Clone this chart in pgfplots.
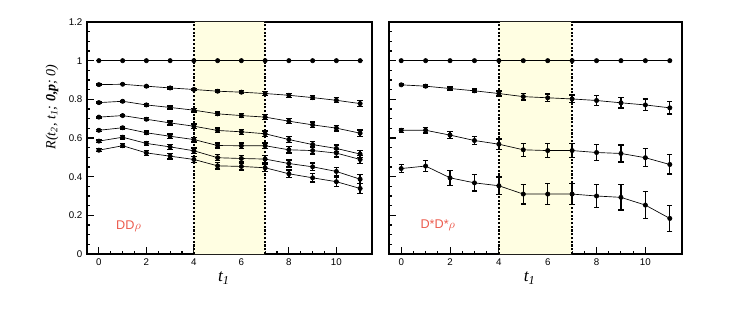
\documentclass[border=0pt]{standalone}
\usepackage{pgfplots}
\pgfplotsset{compat=1.18}
\usepackage{fontspec}
\setmainfont{Liberation Sans}
\newfontfamily\tms{Liberation Serif}
\definecolor{bandyel}{RGB}{255,254,226}
\definecolor{labred}{RGB}{236,92,78}

\pgfplotsset{
  panel/.style={scale only axis, height=174pt,
    xmin=-0.5, xmax=11.5, ymin=0, ymax=1.2,
    axis line style={line width=1.1pt},
    xtick={0,2,4,6,8,10}, minor x tick num=3,
    ytick={0,0.2,0.4,0.6,0.8,1,1.2}, minor y tick num=3,
    tick align=inside, tick pos=left,
    major tick length=5pt, minor tick length=2.2pt,
    every tick/.style={black, line width=0.8pt},
    tick label style={font=\fontsize{7.3}{8}\selectfont},
    /pgf/number format/assume math mode=true,
    xlabel={\tms\itshape t\textsubscript{1}},
    xlabel style={font=\fontsize{13}{14}\selectfont, anchor=center, at={(axis description cs:0.48,-0.105)}},
    clip=false},
  ser/.style={black, line width=0.5pt, mark=*, mark size=1.6pt,
    error bars/.cd, y dir=both, y explicit,
    error bar style={line width=1pt},
    error mark options={rotate=90, mark size=2pt, line width=1pt}},
  band/.style={fill=bandyel, draw=none, forget plot},
  vline/.style={black, line width=1pt, dash pattern=on 1.6pt off 1.2pt, forget plot}
}

\begin{document}
\begin{tikzpicture}
\useasboundingbox (0,0) rectangle (560.25pt,241.5pt);

% left panel: DD rho
\begin{axis}[panel, width=213.75pt, at={(65.25pt,51pt)}, anchor=south west,
  ylabel={\tms\itshape R(t\textsubscript{2}, t\textsubscript{1}; {\bfseries 0,p}; 0)},
  ylabel style={font=\fontsize{10.5}{12}\selectfont, anchor=center, rotate=0, at={(axis description cs:-0.123,0.634)}}]
\addplot[band] coordinates {(4,0) (4,1.2) (7,1.2) (7,0)} \closedcycle;
\addplot[vline] coordinates {(4,0) (4,1.2)};
\addplot[vline] coordinates {(7,0) (7,1.2)};
\addplot[ser] coordinates {(0,1) +- (0,0) (1,1) +- (0,0) (2,1) +- (0,0) (3,1) +- (0,0) (4,1) +- (0,0) (5,1) +- (0,0)
  (6,1) +- (0,0) (7,1) +- (0,0) (8,1) +- (0,0) (9,1) +- (0,0) (10,1) +- (0,0) (11,1) +- (0,0)};
\addplot[ser] coordinates {(0,0.876) +- (0,0.003) (1,0.878) +- (0,0.003) (2,0.868) +- (0,0.004) (3,0.859) +- (0,0.005)
  (4,0.851) +- (0,0.006) (5,0.842) +- (0,0.007) (6,0.837) +- (0,0.008) (7,0.830) +- (0,0.009)
  (8,0.821) +- (0,0.010) (9,0.809) +- (0,0.011) (10,0.795) +- (0,0.013) (11,0.778) +- (0,0.015)};
\addplot[ser] coordinates {(0,0.783) +- (0,0.004) (1,0.790) +- (0,0.005) (2,0.771) +- (0,0.007) (3,0.758) +- (0,0.008)
  (4,0.744) +- (0,0.009) (5,0.725) +- (0,0.010) (6,0.716) +- (0,0.011) (7,0.708) +- (0,0.012)
  (8,0.687) +- (0,0.013) (9,0.668) +- (0,0.014) (10,0.651) +- (0,0.015) (11,0.625) +- (0,0.016)};
\addplot[ser] coordinates {(0,0.708) +- (0,0.004) (1,0.716) +- (0,0.006) (2,0.697) +- (0,0.008) (3,0.678) +- (0,0.010)
  (4,0.661) +- (0,0.011) (5,0.639) +- (0,0.012) (6,0.632) +- (0,0.013) (7,0.622) +- (0,0.014)
  (8,0.592) +- (0,0.015) (9,0.566) +- (0,0.016) (10,0.546) +- (0,0.017) (11,0.517) +- (0,0.019)};
\addplot[ser] coordinates {(0,0.640) +- (0,0.005) (1,0.653) +- (0,0.007) (2,0.627) +- (0,0.009) (3,0.609) +- (0,0.011)
  (4,0.592) +- (0,0.012) (5,0.561) +- (0,0.013) (6,0.560) +- (0,0.014) (7,0.560) +- (0,0.015)
  (8,0.539) +- (0,0.016) (9,0.535) +- (0,0.018) (10,0.522) +- (0,0.020) (11,0.489) +- (0,0.022)};
\addplot[ser] coordinates {(0,0.584) +- (0,0.006) (1,0.604) +- (0,0.009) (2,0.572) +- (0,0.011) (3,0.554) +- (0,0.013)
  (4,0.534) +- (0,0.014) (5,0.498) +- (0,0.015) (6,0.494) +- (0,0.016) (7,0.491) +- (0,0.017)
  (8,0.468) +- (0,0.018) (9,0.451) +- (0,0.020) (10,0.427) +- (0,0.022) (11,0.387) +- (0,0.024)};
\addplot[ser] coordinates {(0,0.537) +- (0,0.007) (1,0.560) +- (0,0.010) (2,0.523) +- (0,0.013) (3,0.506) +- (0,0.015)
  (4,0.489) +- (0,0.016) (5,0.456) +- (0,0.017) (6,0.453) +- (0,0.018) (7,0.446) +- (0,0.019)
  (8,0.415) +- (0,0.020) (9,0.394) +- (0,0.022) (10,0.374) +- (0,0.024) (11,0.339) +- (0,0.025)};
\node[text=labred, font=\fontsize{9.5}{11}\selectfont] at (axis cs:1.25,0.143) {DD$\rho$};
\end{axis}

% right panel: D*D* rho
\begin{axis}[panel, width=219.75pt, at={(291.75pt,51pt)}, anchor=south west,
  yticklabels={}]
\addplot[band] coordinates {(4,0) (4,1.2) (7,1.2) (7,0)} \closedcycle;
\addplot[vline] coordinates {(4,0) (4,1.2)};
\addplot[vline] coordinates {(7,0) (7,1.2)};
\addplot[ser] coordinates {(0,1) +- (0,0) (1,1) +- (0,0) (2,1) +- (0,0) (3,1) +- (0,0) (4,1) +- (0,0) (5,1) +- (0,0)
  (6,1) +- (0,0) (7,1) +- (0,0) (8,1) +- (0,0) (9,1) +- (0,0) (10,1) +- (0,0) (11,1) +- (0,0)};
\addplot[ser] coordinates {(0,0.875) +- (0,0.005) (1,0.868) +- (0,0.006) (2,0.856) +- (0,0.008) (3,0.844) +- (0,0.010)
  (4,0.830) +- (0,0.013) (5,0.814) +- (0,0.017) (6,0.808) +- (0,0.019) (7,0.802) +- (0,0.020)
  (8,0.794) +- (0,0.025) (9,0.782) +- (0,0.027) (10,0.771) +- (0,0.030) (11,0.756) +- (0,0.032)};
\addplot[ser] coordinates {(0,0.640) +- (0,0.010) (1,0.640) +- (0,0.014) (2,0.615) +- (0,0.019) (3,0.587) +- (0,0.021)
  (4,0.568) +- (0,0.026) (5,0.539) +- (0,0.034) (6,0.535) +- (0,0.036) (7,0.535) +- (0,0.036)
  (8,0.525) +- (0,0.040) (9,0.520) +- (0,0.044) (10,0.498) +- (0,0.046) (11,0.463) +- (0,0.050)};
\addplot[ser] coordinates {(0,0.442) +- (0,0.020) (1,0.455) +- (0,0.028) (2,0.394) +- (0,0.038) (3,0.368) +- (0,0.042)
  (4,0.353) +- (0,0.046) (5,0.310) +- (0,0.051) (6,0.310) +- (0,0.054) (7,0.310) +- (0,0.055)
  (8,0.300) +- (0,0.060) (9,0.293) +- (0,0.065) (10,0.253) +- (0,0.070) (11,0.184) +- (0,0.068)};
\node[text=labred, font=\fontsize{9.5}{11}\selectfont] at (axis cs:1.5,0.15) {D*D*$\rho$};
\end{axis}
\end{tikzpicture}
\end{document}
